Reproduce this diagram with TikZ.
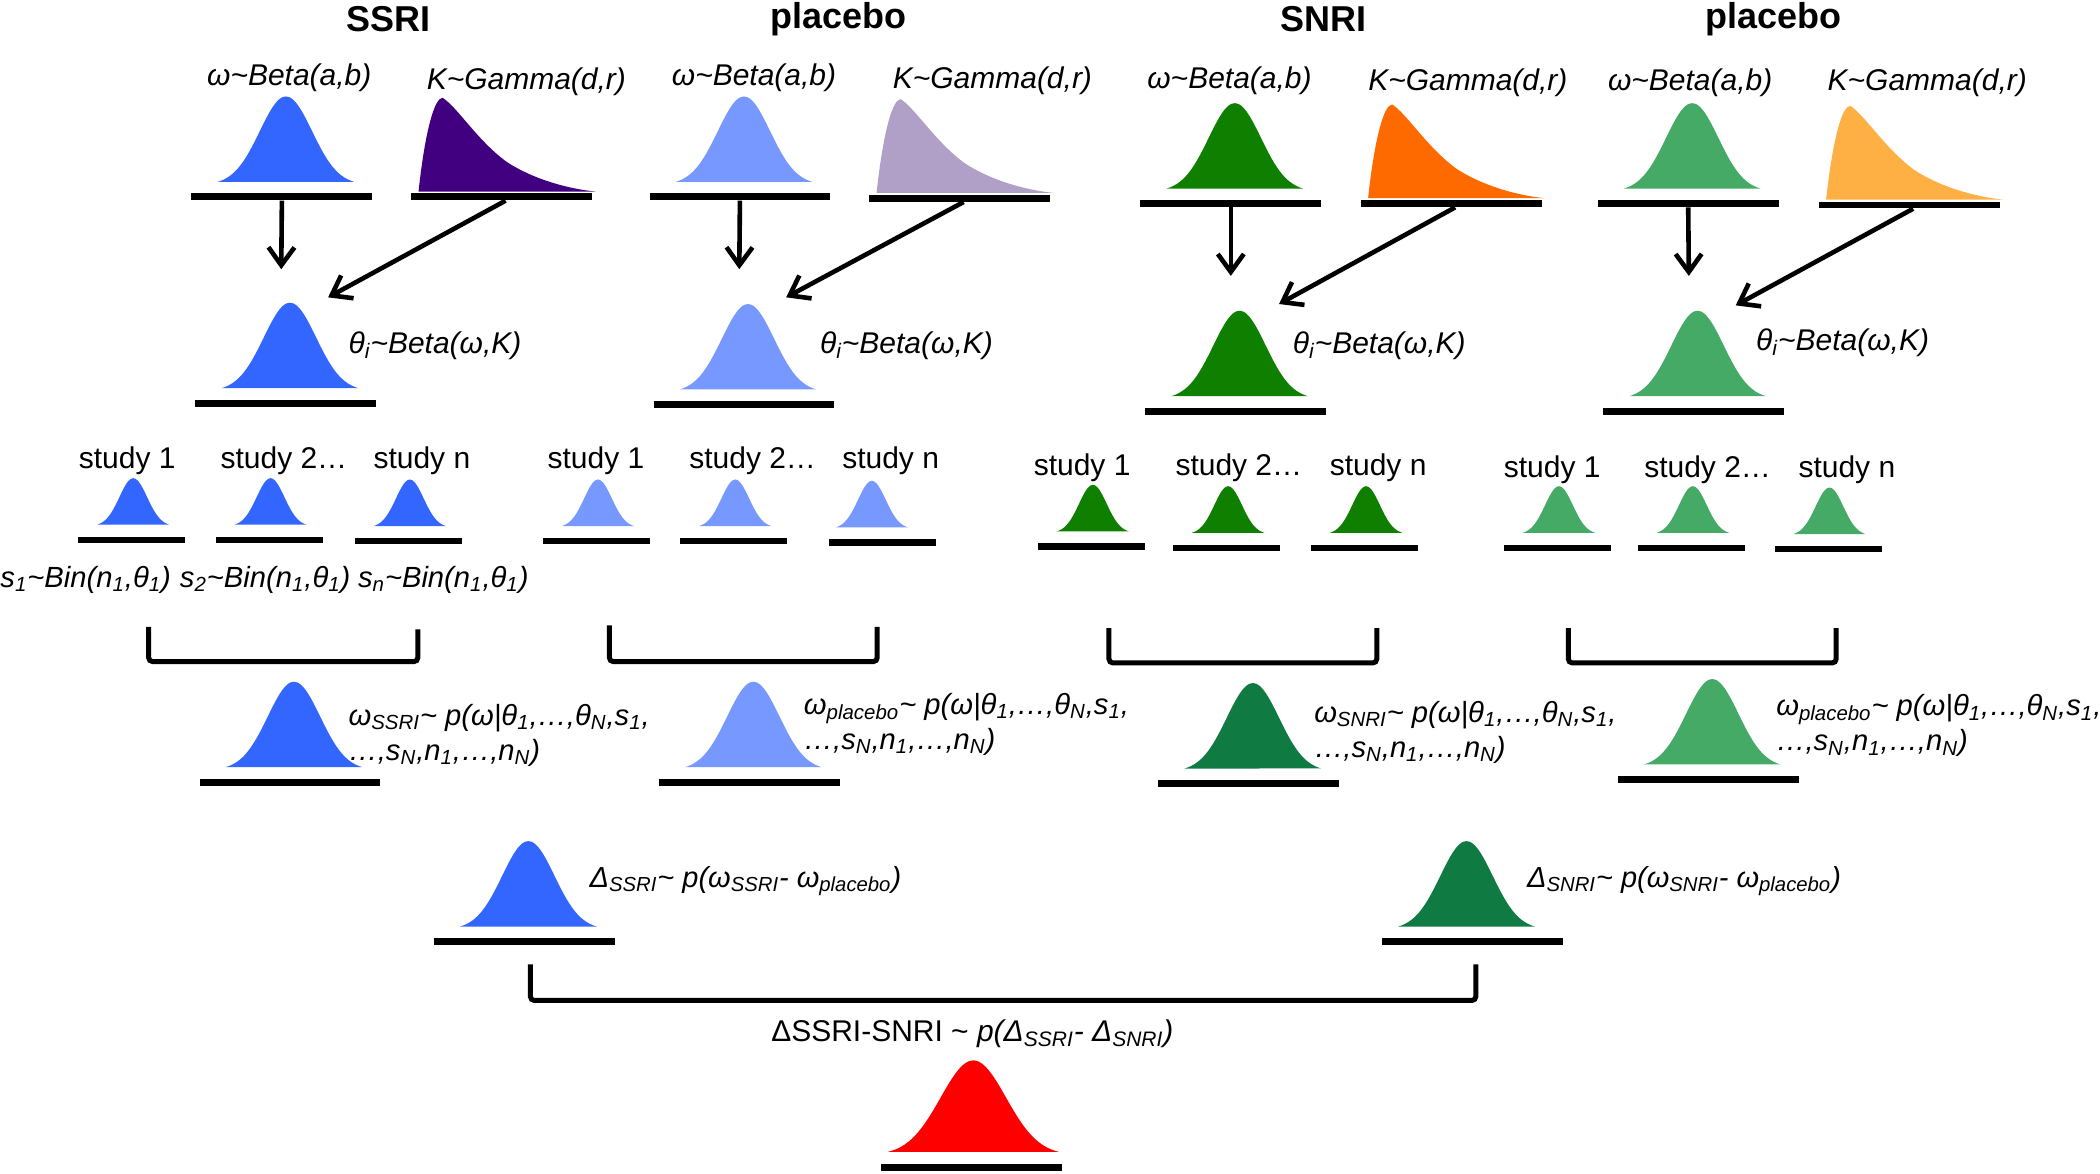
\documentclass[tikz,border=0pt]{standalone}
\usepackage{amsmath}
\usepackage{fontspec}
\setmainfont{Liberation Sans}
\usetikzlibrary{positioning}
\usetikzlibrary{arrows.meta}

\definecolor{ssriblue}{HTML}{3366FF}
\definecolor{plablue}{HTML}{7799FF}
\definecolor{ssripurple}{HTML}{400080}
\definecolor{plapurple}{HTML}{B0A0C8}
\definecolor{snrigreen}{HTML}{0F7F00}
\definecolor{plagreen}{HTML}{44AA66}
\definecolor{snriorange}{HTML}{FF6A00}
\definecolor{plaorange}{HTML}{FFB045}
\definecolor{postgreen}{HTML}{0F7B42}

\newcommand{\tl}{\textasciitilde}
\newcommand{\dn}[1]{\textsubscript{#1}}

\tikzset{
    bell offset/.store in=\belloff,
    bell offset=3,
    small offset/.store in=\smalloff,
    small offset=1,
    bigbar/.style={fill=black,inner sep=0pt,minimum width=90.5pt,minimum height=3.4pt},
    smallbar/.style={fill=black,inner sep=0pt,minimum width=53.5pt,minimum height=3.2pt},
    pics/bigbell/.style={code={
        \fill[#1] plot[domain=-1:1,samples=41,smooth] ({\belloff+51*\x},{-9-66*exp(-3.4*\x*\x)}) -- cycle;
        \node[bigbar] (-bar) at (0,0) {};
    }},
    pics/smallbell/.style={code={
        \fill[#1] plot[domain=-1:1,samples=31,smooth] ({\smalloff+27*\x},{-10-36*exp(-3.4*\x*\x)}) -- cycle;
        \node[smallbar] (-bar) at (0,0) {};
    }},
    pics/gammabell/.style={code={
        \fill[#1] (-62,-4) .. controls (-57,-50) and (-50,-74) .. (-44,-74)
            .. controls (-33,-67) and (-18,-42) .. (4,-26)
            .. controls (24,-13) and (50,-6) .. (70,-4) -- cycle;
        \node[bigbar] (-bar) at (0,0) {};
    }},
    grouptitle/.style={font=\bfseries\fontsize{18}{20}\selectfont,yshift=-0.7pt},
    studytext/.style={font=\fontsize{15}{18}\selectfont,yshift=-1.3pt},
    disttext/.style={font=\itshape\fontsize{15}{18}\selectfont,inner sep=0pt,yshift=-1.3pt},
    postext/.style={disttext,anchor=west,align=left},
    bintext/.style={disttext,font=\itshape\fontsize{14.6}{18}\selectfont},
    difftext/.style={postext,font=\itshape\fontsize{14.5}{18}\selectfont},
    longtext/.style={postext,font=\itshape\fontsize{14.6}{17.5}\selectfont},
    link/.style={>={Straight Barb[length=9pt,width=13pt]},->,line width=2.3pt},
    bracket/.style={line width=2.5pt,rounded corners=2pt},
}

\begin{document}
\begin{tikzpicture}[x=0.67pt,y=-0.67pt]
        \useasboundingbox (0,0) rectangle (1568,876);

        % group titles
        \node[grouptitle] (title1) at (290,13) {SSRI};
        \node[grouptitle] (title2) at (626,13) {placebo};
        \node[grouptitle] (title3) at (988,13) {SNRI};
        \node[grouptitle] (title4) at (1324,13) {placebo};

        % priors
        \node[disttext] (wtext1) at (216,56) {ω\tl Beta(a,b)};
        \node[disttext] (ktext1) at (393,59) {K\tl Gamma(d,r)};
        \node[disttext] (wtext2) at (563,56) {ω\tl Beta(a,b)};
        \node[disttext] (ktext2) at (741,58) {K\tl Gamma(d,r)};
        \node[disttext] (wtext3) at (918,58) {ω\tl Beta(a,b)};
        \node[disttext] (ktext3) at (1096,60) {K\tl Gamma(d,r)};
        \node[disttext] (wtext4) at (1262,60) {ω\tl Beta(a,b)};
        \node[disttext] (ktext4) at (1439,60) {K\tl Gamma(d,r)};

        \pic (w1) at (210.5,147) {bigbell=ssriblue};
        \pic (k1) at (374.5,147) {gammabell=ssripurple};
        \pic (w2) at (552.5,147) {bigbell=plablue};
        \pic (k2) at (716.5,148) {gammabell=plapurple};
        \pic (w3) at (919,152) {bigbell=snrigreen};
        \pic (k3) at (1083.5,152) {gammabell=snriorange};
        \pic (w4) at (1260.5,152) {bigbell=plagreen};
        \pic (k4) at (1425.5,153) {gammabell=plaorange};

        % theta
        \pic (t1) at (213.5,301) {bigbell=ssriblue};
        \pic (t2) at (555.5,302) {bigbell=plablue};
        \pic (t3) at (922.5,307) {bigbell=snrigreen};
        \pic (t4) at (1264.5,307) {bigbell=plagreen};

        \node[postext] (ttext1) at (260,256) {θ\dn{i}\tl Beta(ω,K)};
        \node[postext] (ttext2) at (612,256) {θ\dn{i}\tl Beta(ω,K)};
        \node[postext] (ttext3) at (965,256) {θ\dn{i}\tl Beta(ω,K)};
        \node[postext] (ttext4) at (1311,254) {θ\dn{i}\tl Beta(ω,K)};

        \coordinate (t1w) at (210,201);
        \coordinate (t1k) at (245,222);
        \coordinate (t2w) at (552,201);
        \coordinate (t2k) at (587,222);
        \coordinate (t3w) at (919,206);
        \coordinate (t3k) at (955,227);
        \coordinate (t4w) at (1261,206);
        \coordinate (t4k) at (1296,228);

        \draw[link] (w1-bar) -- (t1w);
        \draw[link] ([xshift=2pt]k1-bar.south) -- (t1k);
        \draw[link] (w2-bar) -- (t2w);
        \draw[link] ([xshift=2pt]k2-bar.south) -- (t2k);
        \draw[link] (w3-bar) -- (t3w);
        \draw[link] ([xshift=2pt]k3-bar.south) -- (t3k);
        \draw[link] (w4-bar) -- (t4w);
        \draw[link] ([xshift=2pt]k4-bar.south) -- (t4k);

        % studies
        \node[studytext] (st11) at (95,342) {study 1};
        \node[studytext] (st12) at (212,342) {study 2…};
        \node[studytext] (st13) at (315,342) {study n};
        \node[studytext] (st21) at (445,342) {study 1};
        \node[studytext] (st22) at (562,342) {study 2…};
        \node[studytext] (st23) at (665,342) {study n};
        \node[studytext] (st31) at (808,347) {study 1};
        \node[studytext] (st32) at (925,347) {study 2…};
        \node[studytext] (st33) at (1029,347) {study n};
        \node[studytext] (st41) at (1159,349) {study 1};
        \node[studytext] (st42) at (1275,349) {study 2…};
        \node[studytext] (st43) at (1379,349) {study n};

        \pic (s11) at (98.5,403) {smallbell=ssriblue};
        \pic (s12) at (201,403) {smallbell=ssriblue};
        \pic (s13) at (305,404) {smallbell=ssriblue};
        \pic (s21) at (445.5,404) {smallbell=plablue};
        \pic (s22) at (548,404) {smallbell=plablue};
        \pic[small offset=-8] (s23) at (659,405) {smallbell=plablue};
        \pic (s31) at (815,408) {smallbell=snrigreen};
        \pic (s32) at (916,409) {smallbell=snrigreen};
        \pic (s33) at (1019,409) {smallbell=snrigreen};
        \pic (s41) at (1163,409) {smallbell=plagreen};
        \pic (s42) at (1263,409) {smallbell=plagreen};
        \pic (s43) at (1365,410) {smallbell=plagreen};

        \node[bintext] (bin1) at (64,431) {s\dn{1}\tl Bin(n\dn{1},θ\dn{1})};
        \node[bintext] (bin2) at (198,431) {s\dn{2}\tl Bin(n\dn{1},θ\dn{1})};
        \node[bintext] (bin3) at (331,431) {s\dn{n}\tl Bin(n\dn{1},θ\dn{1})};

        % brackets
        \coordinate (br1a) at (111,468);
        \coordinate (br1b) at (312,470);
        \coordinate (br2a) at (455,467);
        \coordinate (br2b) at (655,468);
        \coordinate (br3a) at (828,469);
        \coordinate (br3b) at (1028,469);
        \coordinate (br4a) at (1171,469);
        \coordinate (br4b) at (1371,469);
        \draw[bracket] (br1a) -- ++(0,26) -| (br1b);
        \draw[bracket] (br2a) -- ++(0,27) -| (br2b);
        \draw[bracket] (br3a) -- ++(0,26) -| (br3b);
        \draw[bracket] (br4a) -- ++(0,26) -| (br4b);

        % posteriors
        \pic (p1) at (216.5,584) {bigbell=ssriblue};
        \pic (p2) at (559.5,584) {bigbell=plablue};
        \pic (p3) at (932.5,585) {bigbell=postgreen};
        \pic (p4) at (1275.5,582) {bigbell=plagreen};

        \node[longtext] (ptext1) at (260,547) {ω\dn{SSRI}\tl\ p(ω|θ\dn{1},…,θ\dn{N},s\dn{1},\\…,s\dn{N},n\dn{1},…,n\dn{N})};
        \node[longtext] (ptext2) at (600,539) {ω\dn{placebo}\tl\ p(ω|θ\dn{1},…,θ\dn{N},s\dn{1},\\…,s\dn{N},n\dn{1},…,n\dn{N})};
        \node[longtext] (ptext3) at (981,545) {ω\dn{SNRI}\tl\ p(ω|θ\dn{1},…,θ\dn{N},s\dn{1},\\…,s\dn{N},n\dn{1},…,n\dn{N})};
        \node[longtext] (ptext4) at (1326,540) {ω\dn{placebo}\tl\ p(ω|θ\dn{1},…,θ\dn{N},s\dn{1},\\…,s\dn{N},n\dn{1},…,n\dn{N})};

        % differences
        \pic (d1) at (391.5,703) {bigbell=ssriblue};
        \pic[bell offset=-4.5] (d2) at (1099.5,703) {bigbell=postgreen};

        \node[difftext] (dtext1) at (440,656) {Δ\dn{SSRI}\tl\ p(ω\dn{SSRI}- ω\dn{placebo})};
        \node[difftext] (dtext2) at (1140,656) {Δ\dn{SNRI}\tl\ p(ω\dn{SNRI}- ω\dn{placebo})};

        \coordinate (br5a) at (396,720);
        \coordinate (br5b) at (1102,720);
        \draw[bracket] (br5a) -- ++(0,27) -| (br5b);

        \node[disttext] (ftext) at (726,770) {\upshape ΔSSRI-SNRI \tl\ \itshape p(Δ\dn{SSRI}- Δ\dn{SNRI})};
        \pic[xscale=1.25,yscale=1.07,bell offset=1] (final) at (725.5,872) {bigbell=red};
    \end{tikzpicture}
\end{document}
